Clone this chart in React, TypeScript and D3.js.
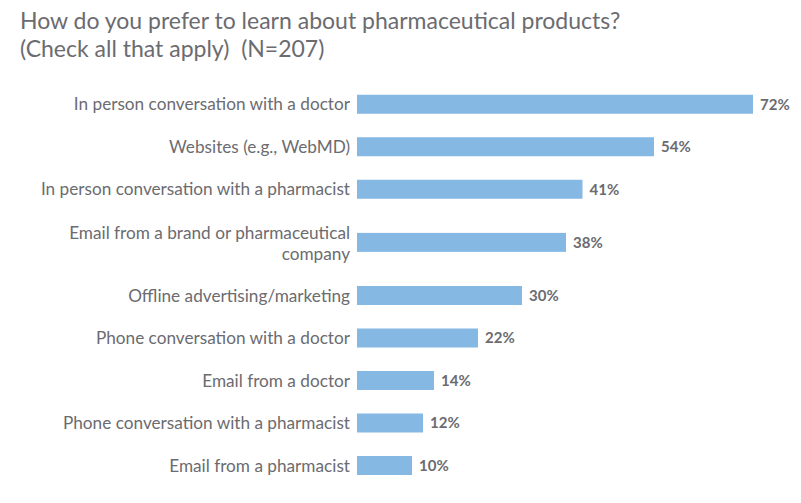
import React, { useEffect, useRef } from "react"
import * as d3 from "d3"

const categories = [
  "In person conversation with a doctor",
  "Websites (e.g., WebMD)",
  "In person conversation with a pharmacist",
  "Email from a brand or pharmaceutical\ncompany",
  "Offline advertising/marketing",
  "Phone conversation with a doctor",
  "Email from a doctor",
  "Phone conversation with a pharmacist",
  "Email from a pharmacist",
]
const values = [72, 54, 41, 38, 30, 22, 14, 12, 10]
const titleLines = [
  "How do you prefer to learn about pharmaceutical products?",
  "(Check all that apply)\u00a0 (N=207)",
]

const W = 801
const H = 503
const textColor = "#6b6b70"
const barColor = "#85b8e3"
const font = "Lato, 'Open Sans', sans-serif"

const App = () => {
  const ref = useRef<SVGSVGElement>(null)

  useEffect(() => {
    const svg = d3.select(ref.current)
    svg.selectAll("*").remove()

    const rows = categories.map((c, i) => ({
      lines: c.split("\n"),
      value: values[i],
    }))
    // a wrapped label takes more room than a single line
    const weights = rows.map(r => (r.lines.length > 1 ? 1.5 : 1))
    const starts = weights.map((_, i) => d3.sum(weights.slice(0, i)))
    const total = d3.sum(weights)

    const x = d3.scaleLinear().domain([0, 72]).range([357, 753])
    const y = d3.scaleLinear().domain([0, total]).range([83, 83 + total * 42.5])
    const barH = 19

    svg
      .append("g")
      .selectAll("text")
      .data(titleLines)
      .join("text")
      .attr("x", 20)
      .attr("y", (d, i) => 29 + i * 28)
      .attr("fill", textColor)
      .attr("font-size", 23)
      .attr("font-family", font)
      .text(d => d)

    const g = svg
      .append("g")
      .selectAll("g")
      .data(rows)
      .join("g")
      .attr("transform", (d, i) => `translate(0,${y(starts[i] + weights[i] / 2)})`)

    g.append("rect")
      .attr("x", x(0))
      .attr("y", -barH / 2)
      .attr("width", d => x(d.value) - x(0))
      .attr("height", barH)
      .attr("fill", barColor)

    g.append("text")
      .attr("text-anchor", "end")
      .attr("fill", textColor)
      .attr("font-size", 17.2)
      .attr("font-family", font)
      .selectAll("tspan")
      .data(d => d.lines.map((l, i) => ({ l, i, n: d.lines.length })))
      .join("tspan")
      .attr("x", 350)
      .attr("y", d => (d.i - (d.n - 1) / 2) * 21 + (d.n > 1 ? 1 : 0))
      .attr("dy", "0.35em")
      .text(d => d.l)

    g.append("text")
      .attr("x", d => x(d.value) + 7)
      .attr("dy", "0.35em")
      .attr("fill", textColor)
      .attr("font-size", 15)
      .attr("font-weight", "bold")
      .attr("font-family", font)
      .text(d => `${d.value}%`)
  }, [])

  return (
    <svg
      ref={ref}
      width={W}
      height={H}
      style={{ position: "absolute", left: 0, top: 0, background: "#fff" }}
    ></svg>
  )
}

export default App
